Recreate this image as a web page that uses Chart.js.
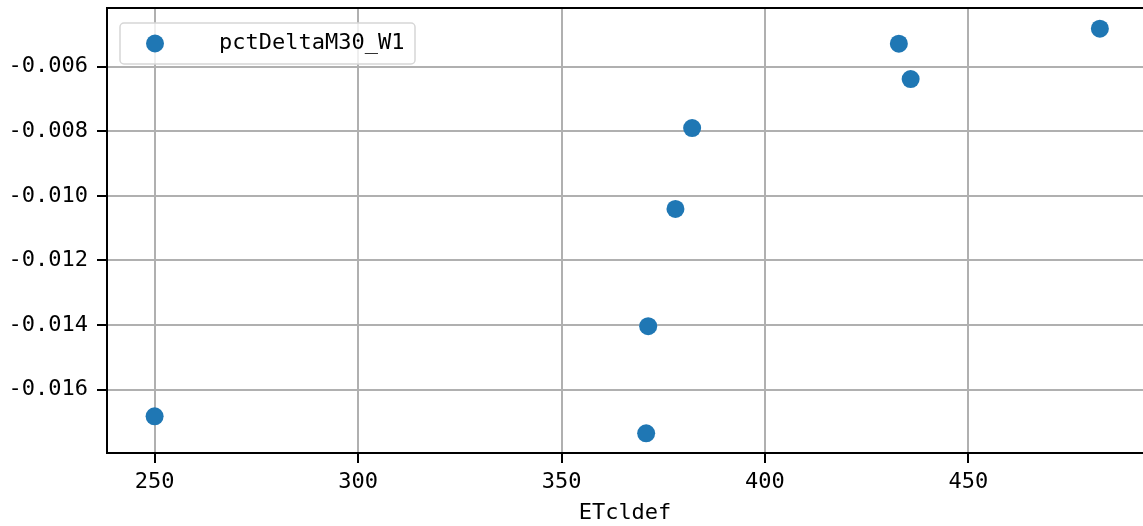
<!DOCTYPE html>
<html lang="en">
<head>
  <meta charset="UTF-8">
  <title>pctDeltaM30_W1 vs ETcldef</title>
  <script src="https://cdn.jsdelivr.net/npm/chart.js"></script>
  <style>
    html, body { margin: 0; padding: 0; background: #fff; }
    #wrap { width: 1143px; height: 526px; }
  </style>
</head>
<body>
  <div id="wrap"><canvas id="scatterChart" width="1143" height="526"></canvas></div>

  <script>
    // values
    const etcldef = [250.0, 370.8, 371.3, 378.0, 382.1, 432.9, 435.8, 482.3];
    const pctDeltaM30W1 = [-0.016828, -0.017355, -0.014037, -0.010403, -0.007901, -0.005287, -0.006381, -0.004822];
    const xTicks = [250, 300, 350, 400, 450];
    const yTicks = [-0.016, -0.014, -0.012, -0.010, -0.008, -0.006];

    const seriesName = 'pctDeltaM30_W1';
    const xTitle = 'ETcldef';
    const blue = '#1f77b4';
    const fontFamily = '"DejaVu Sans Mono", "Liberation Mono", monospace';
    const fontSize = 22;

    const points = etcldef.map((x, i) => ({ x: x, y: pctDeltaM30W1[i] }));

    // top spine (right one falls off the picture)
    const framePlugin = {
      id: 'frame',
      beforeDatasetsDraw(chart) {
        const a = chart.chartArea;
        const ctx = chart.ctx;
        ctx.save();
        ctx.strokeStyle = '#000';
        ctx.lineWidth = 2;
        ctx.beginPath();
        ctx.moveTo(a.left, a.top);
        ctx.lineTo(a.right, a.top);
        ctx.stroke();
        ctx.restore();
      }
    };

    // matplotlib style legend box, upper left
    const legendPlugin = {
      id: 'mplLegend',
      afterDatasetsDraw(chart) {
        const ctx = chart.ctx;
        const ds = chart.data.datasets[0];
        const x = 120, y = 23, w = 295, h = 41, r = 4;
        ctx.save();
        ctx.beginPath();
        ctx.roundRect(x, y, w, h, r);
        ctx.fillStyle = 'rgba(255,255,255,0.8)';
        ctx.fill();
        ctx.strokeStyle = '#d6d6d6';
        ctx.lineWidth = 1.5;
        ctx.stroke();
        ctx.beginPath();
        ctx.arc(155, y + h / 2, 9, 0, Math.PI * 2);
        ctx.fillStyle = ds.backgroundColor;
        ctx.fill();
        ctx.fillStyle = '#000';
        ctx.font = fontSize + 'px ' + fontFamily;
        ctx.textBaseline = 'middle';
        ctx.fillText(ds.label, 219, y + h / 2);
        ctx.restore();
      }
    };

    new Chart(document.getElementById('scatterChart'), {
      type: 'scatter',
      data: {
        datasets: [{
          label: seriesName,
          data: points,
          backgroundColor: blue,
          borderColor: blue,
          borderWidth: 0,
          pointRadius: 9,
          pointHoverRadius: 9
        }]
      },
      plugins: [framePlugin, legendPlugin],
      options: {
        responsive: false,
        animation: false,
        layout: { autoPadding: false, padding: { top: 8, right: 0, left: 0, bottom: 0 } },
        plugins: {
          legend: { display: false },
          tooltip: { enabled: false }
        },
        scales: {
          x: {
            type: 'linear',
            min: 238.3,
            max: 492.9,
            afterBuildTicks: scale => { scale.ticks = xTicks.map(v => ({ value: v })); },
            afterFit: scale => {
              scale.height = 73;
              scale.paddingLeft = 0;
              scale.paddingRight = 0;
            },
            ticks: {
              color: '#000',
              font: { family: fontFamily, size: fontSize },
              padding: 6,
              maxRotation: 0,
              callback: v => String(v)
            },
            grid: { color: '#b0b0b0', lineWidth: 2, tickColor: '#000', tickLength: 10, tickWidth: 2 },
            border: { color: '#000', width: 2 },
            title: {
              display: true,
              text: xTitle,
              color: '#000',
              font: { family: fontFamily, size: fontSize },
              padding: { top: 0, bottom: 0 }
            }
          },
          y: {
            type: 'linear',
            min: -0.017965,
            max: -0.00418,
            afterBuildTicks: scale => { scale.ticks = yTicks.map(v => ({ value: v })); },
            afterFit: scale => {
              scale.width = 107;
              scale.paddingTop = 0;
              scale.paddingBottom = 0;
            },
            ticks: {
              color: '#000',
              font: { family: fontFamily, size: fontSize },
              padding: 9,
              callback: v => v.toFixed(3)
            },
            grid: { color: '#b0b0b0', lineWidth: 2, tickColor: '#000', tickLength: 10, tickWidth: 2 },
            border: { color: '#000', width: 2 }
          }
        }
      }
    });
  </script>
</body>
</html>
